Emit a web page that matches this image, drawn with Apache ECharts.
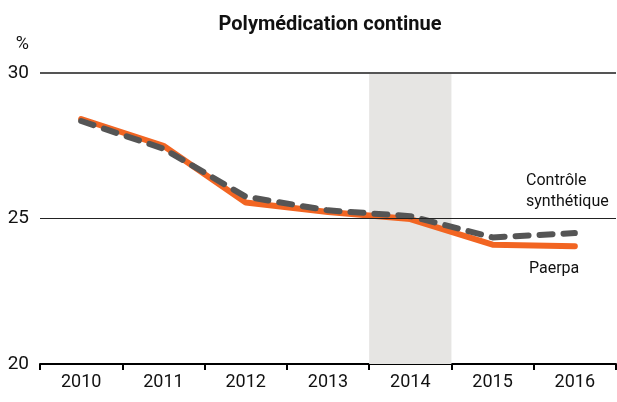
<!DOCTYPE html>
<html>
<head>
<meta charset="utf-8">
<script src="https://cdn.jsdelivr.net/npm/echarts@6/dist/echarts.min.js"></script>
<style>
  html, body { margin: 0; padding: 0; background: #fff; }
  #chart { width: 617px; height: 402px; }
</style>
</head>
<body>
<div id="chart"></div>
<script>
var years = ['2010', '2011', '2012', '2013', '2014', '2015', '2016'];
var paerpa = [28.42, 27.5, 25.55, 25.22, 24.98, 24.1, 24.05];
var controle = [28.35, 27.4, 25.75, 25.28, 25.08, 24.35, 24.5];
var band = [null, null, null, null, 30, null, null]; // 2014 shaded
var yTicks = [20, 25, 30];

var font = 'Roboto, sans-serif';

var chart = echarts.init(document.getElementById('chart'));

var option = {
  animation: false,
  backgroundColor: '#ffffff',
  title: {
    text: 'Polymédication continue',
    left: 325,
    textAlign: 'center',
    top: 10,
    textStyle: { fontFamily: font, fontWeight: 'bold', fontSize: 20, color: '#111' }
  },
  grid: { left: 40, right: 1, top: 73, bottom: 38 },
  xAxis: {
    type: 'category',
    data: years,
    boundaryGap: true,
    axisLine: { lineStyle: { color: '#000', width: 2 } },
    axisTick: { show: true, length: 6, lineStyle: { color: '#000', width: 2 } },
    axisLabel: { fontFamily: font, fontSize: 18, color: '#111', margin: 9 },
    splitLine: { show: false }
  },
  yAxis: {
    type: 'value',
    min: yTicks[0],
    max: yTicks[yTicks.length - 1],
    interval: 5,
    name: '%',
    nameLocation: 'end',
    nameGap: 20,
    nameTextStyle: { fontFamily: font, fontSize: 18, color: '#111', align: 'right', padding: [0, 11, 0, 0] },
    axisLine: { show: false },
    axisTick: { show: false },
    axisLabel: { fontFamily: font, fontSize: 19, color: '#111', margin: 11 },
    splitLine: { show: false }
  },
  graphic: [
    { type: 'text', left: 526, top: 170, style: { text: 'Contrôle\nsynthétique', fontFamily: font, fontSize: 16, lineHeight: 21, fill: '#111', align: 'left' } },
    { type: 'text', left: 529, top: 261, style: { text: 'Paerpa', fontFamily: font, fontSize: 16, fill: '#111' } }
  ],
  series: [
    {
      name: 'band',
      type: 'bar',
      data: band,
      barWidth: '100%',
      silent: true,
      itemStyle: { color: '#e6e5e3' },
      z: 0,
      markLine: {
        silent: true,
        symbol: 'none',
        label: { show: false },
        data: [
          { yAxis: 30, lineStyle: { color: '#555', width: 2, type: 'solid' } },
          { yAxis: 25, lineStyle: { color: '#222', width: 1, type: 'solid' } }
        ]
      }
    },
    {
      name: 'Paerpa',
      type: 'line',
      data: paerpa,
      symbol: 'none',
      lineStyle: { color: '#f26522', width: 6, cap: 'round', join: 'round' },
      z: 3
    },
    {
      name: 'Contrôle synthétique',
      type: 'line',
      data: controle,
      symbol: 'none',
      lineStyle: { color: '#555555', width: 6, type: [13, 11], cap: 'round', join: 'round' },
      z: 4
    }
  ]
};

chart.setOption(option);
</script>
</body>
</html>
